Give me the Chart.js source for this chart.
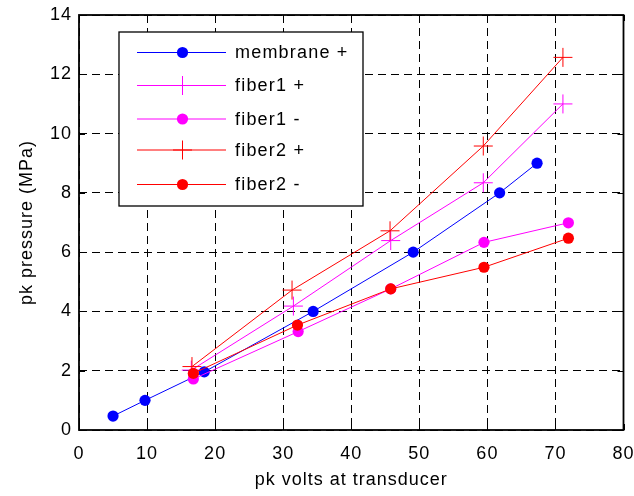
<!DOCTYPE html>
<html>
<head>
<meta charset="utf-8">
<script src="https://cdn.jsdelivr.net/npm/chart.js@4/dist/chart.umd.min.js"></script>
<style>
  html, body { margin: 0; padding: 0; background: #fff; }
  #wrap { width: 634px; height: 496px; }
</style>
</head>
<body>
<div id="wrap"><canvas id="c" width="634" height="496"></canvas></div>
<script>
// Peak drive voltage (V) and measured peak pressure (MPa) per hydrophone
const membraneVolts = [5.0, 9.7, 18.4, 34.4, 49.1, 61.8, 67.3];
const membranePressure = [0.47, 1.0, 1.96, 4.0, 6.0, 8.0, 9.0];

const fiber1PlusVolts = [16.5, 31.5, 45.8, 59.4, 71.1];
const fiber1PlusPressure = [2.02, 4.18, 6.39, 8.34, 11.0];

const fiber1MinusVolts = [16.8, 32.2, 45.8, 59.5, 71.9];
const fiber1MinusPressure = [1.72, 3.32, 4.76, 6.33, 6.99];

const fiber2PlusVolts = [16.6, 31.3, 45.7, 59.4, 71.1];
const fiber2PlusPressure = [2.14, 4.72, 6.72, 9.58, 12.57];

const fiber2MinusVolts = [16.8, 32.1, 45.8, 59.5, 71.9];
const fiber2MinusPressure = [1.91, 3.54, 4.76, 5.49, 6.47];

const seriesLabels = ['membrane +', 'fiber1 +', 'fiber1 -', 'fiber2 +', 'fiber2 -'];

const xTicks = [0, 10, 20, 30, 40, 50, 60, 70, 80];
const yTicks = [0, 2, 4, 6, 8, 10, 12, 14];

const FONT = '"Liberation Sans", Arial, Helvetica, sans-serif';

function pts(xs, ys) { return xs.map((x, i) => ({ x: x, y: ys[i] })); }

function series(label, xs, ys, color, marker, order) {
  const isCross = marker === 'cross';
  return {
    label: label,
    data: pts(xs, ys),
    showLine: true,
    borderColor: color,
    backgroundColor: color,
    borderWidth: 1,
    pointStyle: isCross ? 'cross' : 'circle',
    pointRadius: isCross ? 9.5 : 5.6,
    pointHoverRadius: isCross ? 9.5 : 5.6,
    pointBorderWidth: isCross ? 1 : 0,
    pointBorderColor: color,
    pointBackgroundColor: color,
    tension: 0,
    order: order
  };
}

const datasets = [
  series(seriesLabels[0], membraneVolts, membranePressure, '#0000ff', 'circle', 5),
  series(seriesLabels[1], fiber1PlusVolts, fiber1PlusPressure, '#ff00ff', 'cross', 4),
  series(seriesLabels[2], fiber1MinusVolts, fiber1MinusPressure, '#ff00ff', 'circle', 3),
  series(seriesLabels[3], fiber2PlusVolts, fiber2PlusPressure, '#ff0000', 'cross', 2),
  series(seriesLabels[4], fiber2MinusVolts, fiber2MinusPressure, '#ff0000', 'circle', 1)
];

// Wide glyph spacing for all text
const spacingPlugin = {
  id: 'spacing',
  beforeDraw(chart) { chart.ctx.letterSpacing = '1px'; }
};

// Solid frame with inward tick marks on all four sides
const framePlugin = {
  id: 'frame',
  afterDatasetsDraw(chart) {
    const ctx = chart.ctx;
    const a = chart.chartArea;
    const xs = chart.scales.x, ys = chart.scales.y;
    ctx.save();
    ctx.strokeStyle = '#000';
    ctx.lineWidth = 1;
    ctx.setLineDash([]);
    const tl = 6;
    ctx.beginPath();
    xTicks.forEach(v => {
      const px = Math.round(xs.getPixelForValue(v)) + 0.5;
      ctx.moveTo(px, a.bottom); ctx.lineTo(px, a.bottom - tl);
      ctx.moveTo(px, a.top); ctx.lineTo(px, a.top + tl);
    });
    yTicks.forEach(v => {
      const py = Math.round(ys.getPixelForValue(v)) + 0.5;
      ctx.moveTo(a.left, py); ctx.lineTo(a.left + tl, py);
      ctx.moveTo(a.right, py); ctx.lineTo(a.right - tl, py);
    });
    ctx.stroke();
    ctx.lineWidth = 1.8;
    ctx.strokeRect(a.left, a.top, a.right - a.left, a.bottom - a.top);
    ctx.restore();
  }
};

// Boxed legend inside the plot area
const boxLegendPlugin = {
  id: 'boxLegend',
  afterDatasetsDraw(chart) {
    const ctx = chart.ctx;
    const a = chart.chartArea;
    const bx = a.left + 40, by = a.top + 17, bw = 244, bh = 174;
    ctx.save();
    ctx.setLineDash([]);
    ctx.fillStyle = '#fff';
    ctx.fillRect(bx, by, bw, bh);
    ctx.strokeStyle = '#000';
    ctx.lineWidth = 1.3;
    ctx.strokeRect(bx, by, bw, bh);
    const rowY = [20.5, 53.5, 87, 118, 152.5];
    ctx.font = '18px ' + FONT;
    ctx.letterSpacing = '1.2px';
    ctx.textBaseline = 'middle';
    ctx.textAlign = 'left';
    chart.data.datasets.forEach((ds, i) => {
      const y = by + rowY[i];
      const x0 = bx + 18, x1 = bx + 107, xm = bx + 63.5;
      ctx.strokeStyle = ds.borderColor;
      ctx.lineWidth = 1;
      ctx.beginPath(); ctx.moveTo(x0, y); ctx.lineTo(x1, y); ctx.stroke();
      if (ds.pointStyle === 'cross') {
        const r = 9.5;
        ctx.beginPath();
        ctx.moveTo(xm - r, y); ctx.lineTo(xm + r, y);
        ctx.moveTo(xm, y - r); ctx.lineTo(xm, y + r);
        ctx.stroke();
      } else {
        ctx.fillStyle = ds.backgroundColor;
        ctx.beginPath(); ctx.arc(xm, y, 5.6, 0, Math.PI * 2); ctx.fill();
      }
      ctx.fillStyle = '#000';
      ctx.fillText(ds.label, bx + 116, y + 1);
    });
    ctx.restore();
  }
};

new Chart(document.getElementById('c'), {
  type: 'scatter',
  data: { datasets: datasets },
  options: {
    responsive: false,
    animation: false,
    devicePixelRatio: 1,
    layout: { padding: { left: 0, top: 15, right: 10, bottom: 0 } },
    plugins: { legend: { display: false }, tooltip: { enabled: false } },
    scales: {
      x: {
        type: 'linear', min: 0, max: 80,
        afterBuildTicks: s => { s.ticks = xTicks.map(v => ({ value: v })); },
        afterFit: s => { s.height = 66; s.paddingLeft = 0; s.paddingRight = 0; },
        grid: { color: '#000', lineWidth: 1, drawTicks: false },
        border: { display: false, dash: [8, 5] },
        ticks: { color: '#000', font: { family: FONT, size: 18 }, padding: 13, maxRotation: 0 },
        title: { display: true, text: 'pk volts at transducer', color: '#000', font: { family: FONT, size: 18 }, padding: { top: 0, bottom: 5 } }
      },
      y: {
        type: 'linear', min: 0, max: 14,
        afterBuildTicks: s => { s.ticks = yTicks.map(v => ({ value: v })); },
        afterFit: s => { s.width = 79; s.paddingTop = 0; s.paddingBottom = 0; },
        grid: { color: '#000', lineWidth: 1, drawTicks: false },
        border: { display: false, dash: [8, 5] },
        ticks: { color: '#000', font: { family: FONT, size: 18 }, padding: 7 },
        title: { display: true, text: 'pk pressure (MPa)', color: '#000', font: { family: FONT, size: 18 }, padding: { top: 16, bottom: 0 } }
      }
    }
  },
  plugins: [spacingPlugin, framePlugin, boxLegendPlugin]
});
</script>
</body>
</html>
